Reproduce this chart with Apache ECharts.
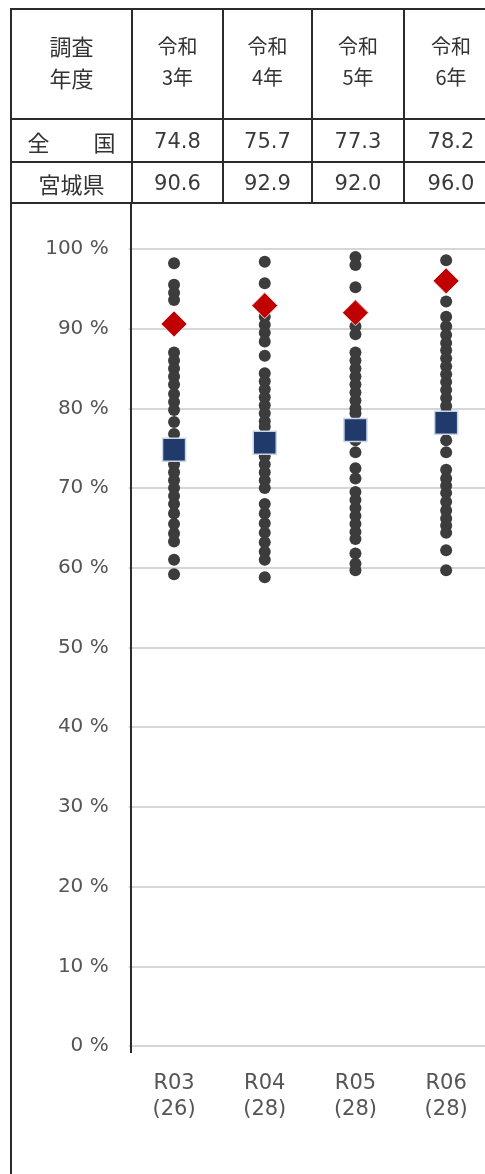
<!DOCTYPE html>
<html><head><meta charset="utf-8">
<script src="https://cdn.jsdelivr.net/npm/echarts@6/dist/echarts.min.js"></script>
<style>
html,body{margin:0;padding:0;background:#fff;width:485px;height:1174px;overflow:hidden;font-family:"Noto Sans CJK JP","Noto Sans",sans-serif;}
#wrap{position:relative;width:485px;height:1174px;overflow:hidden;}
table{position:absolute;left:10px;top:8px;border-collapse:collapse;table-layout:fixed;width:487px;}
td{border:2px solid #2b2b2b;text-align:center;vertical-align:middle;color:#333;padding:0;box-sizing:border-box;}
.hd td{height:110px;font-size:20px;line-height:31px;padding-bottom:6px;}
.hd td.first{font-size:22px;line-height:32px;}
.r1 td{height:43px;}
.r2 td{height:41px;}
.r td{font-size:21px;line-height:24px;font-family:"DejaVu Sans",sans-serif;color:#3a3a3a;}
.r td.first{font-size:22px;font-family:"Noto Sans CJK JP",sans-serif;color:#333;}
#chart{position:absolute;left:0;top:203px;width:495px;height:971px;}
#lb{position:absolute;left:10px;top:8px;width:2px;height:1166px;background:#2b2b2b;}
#ax{position:absolute;left:130px;top:203px;width:2px;height:850px;background:#2b2b2b;}
</style></head>
<body><div id="wrap">
<div id="chart"></div>
<table id="tbl"></table>
<div id="lb"></div>
<div id="ax"></div>
</div>
<script>
const yearsJa = ['令和<br>3年','令和<br>4年','令和<br>5年','令和<br>6年'];
const categories = ['R03','R04','R05','R06'];
const counts = [26, 28, 28, 28];
const national = [74.8, 75.7, 77.3, 78.2];
const miyagi = [90.6, 92.9, 92.0, 96.0];
const yTicks = [0,10,20,30,40,50,60,70,80,90,100];
const schoolsR03 = [98.2,95.5,94.5,93.6,87,86,85,84,83,81.8,80.8,79.8,78.3,76.8,73,72,71,70,69,68,66.8,65.5,64.3,63.3,61,59.2];
const schoolsR04 = [98.4,95.7,91.5,90.5,89.5,88.4,86.6,84.4,83.4,82.4,81.4,80.4,79.4,78.4,77.7,74,73,72,71,70,68,66.8,65.6,64.4,63.2,62,61,58.8];
const schoolsR05 = [99,98,95.2,90.3,89.3,87,86,85,84,83,82,81,80,79.4,76,74.5,72.5,71.2,69.5,68.5,67.5,66.5,65.5,64.5,63.6,61.8,60.5,59.7];
const schoolsR06 = [98.6,93.4,91.5,90.3,89.2,88.2,87.3,86.3,85.3,84.3,83.3,82.3,81.3,80.3,79.4,76,74.5,72.3,71.2,70.3,69.4,68.3,67.2,66.2,65.3,64.4,62.2,59.7];
const schools = [schoolsR03, schoolsR04, schoolsR05, schoolsR06];

// table
const widths = [121, 91, 89, 92, 94];
let html = '<colgroup>' + widths.map(w=>'<col style="width:'+w+'px">').join('') + '</colgroup>';
html += '<tr class="hd"><td class="first">調査<br>年度</td>' + yearsJa.map(t=>'<td>'+t+'</td>').join('') + '</tr>';
html += '<tr class="r r1"><td class="first">全　　国</td>' + national.map(v=>'<td>'+v.toFixed(1)+'</td>').join('') + '</tr>';
html += '<tr class="r r2"><td class="first">宮城県</td>' + miyagi.map(v=>'<td>'+v.toFixed(1)+'</td>').join('') + '</tr>';
document.getElementById('tbl').innerHTML = html;

const chart = echarts.init(document.getElementById('chart'));
const dotData = [];
schools.forEach((arr, i) => arr.forEach(v => dotData.push([i, v])));
chart.setOption({
  animation: false,
  grid: {left: 128.7, right: 3.5, top: 46, bottom: 128, containLabel: false},
  xAxis: {
    type: 'category',
    data: categories.map((c, i) => c + '\n(' + counts[i] + ')'),
    axisLine: {show: false}, axisTick: {show: false},
    axisLabel: {color: '#555', fontSize: 21, lineHeight: 26, margin: 25, fontFamily: 'DejaVu Sans'},
    splitLine: {show: false}
  },
  yAxis: {
    type: 'value', min: 0, max: 100, interval: 10,
    axisLine: {show: false}, axisTick: {show: false},
    axisLabel: {color: '#555', fontSize: 20, margin: 20, formatter: '{value} %', fontFamily: 'DejaVu Sans'},
    splitLine: {lineStyle: {color: '#d6d6d6', width: 2}}
  },
  series: [
    {type: 'scatter', data: dotData, symbol: 'circle', symbolSize: 12,
     itemStyle: {color: '#3c3c3c', opacity: 1}, z: 2},
    {type: 'scatter', data: miyagi.map((v,i)=>[i,v]), symbol: 'diamond', symbolSize: [26, 26],
     itemStyle: {color: '#c00000', borderColor: '#f3d6d6', borderWidth: 1, opacity: 1}, z: 4},
    {type: 'scatter', data: national.map((v,i)=>[i,v]), symbol: 'rect', symbolSize: 23,
     itemStyle: {color: '#1f3a6b', borderColor: '#c9d4e6', borderWidth: 1.5, opacity: 1}, z: 3}
  ]
});
</script>
</body></html>
